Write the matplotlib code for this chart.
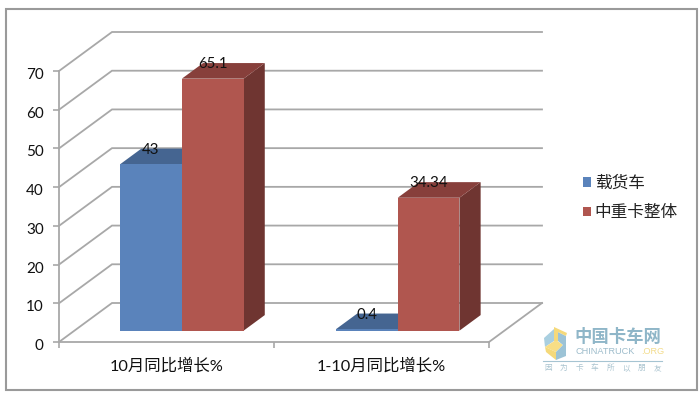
"""Two category 3D-look bar chart of truck sales growth."""

import matplotlib
matplotlib.use('Agg')
import matplotlib.pyplot as plt
from matplotlib.patches import Patch, Polygon, Rectangle
from matplotlib.transforms import ScaledTranslation

plt.rcParams['font.family'] = ['Lato', 'Noto Sans CJK SC', 'DejaVu Sans']

categories = ['10月同比增长%', '1-10月同比增长%']
series_names = ['载货车', '中重卡整体']
cargo_values = [43, 0.4]
heavy_values = [65.1, 34.34]
y_ticks = [0, 10, 20, 30, 40, 50, 60, 70]

W, H = 699, 396
GRID = '#a8a8a8'
TEXT = '#111111'
# front, top, side
BLUE = ('#5a83bb', '#456591', '#3a5578')
RED = ('#b0564f', '#873f3b', '#6f3531')

fig = plt.figure(figsize=(W / 100, H / 100), dpi=100)


def px(x, y):
    return x / W, 1 - y / H


def draw_px_poly(points, color, alpha=1.0, zorder=1):
    fig.add_artist(Polygon([px(x, y) for x, y in points], closed=True, facecolor=color,
                           edgecolor='none', alpha=alpha, transform=fig.transFigure, zorder=zorder))


# outer frame
fig.add_artist(Rectangle(px(6, 390), 691 / W, 381 / H, transform=fig.transFigure,
                         facecolor='white', edgecolor='#9a9a9a', linewidth=1.5, zorder=0))

left, bottom = px(59, 342)
ax = fig.add_axes([left, bottom, 430 / W, 271 / H])
ax.patch.set_visible(False)
ax.set_xlim(0, 2)
ax.set_ylim(0, 70)

# depth of the floor in data units, and of the bars
depth_x = 53 / 215
depth_y = 39 / (271 / 70)
bar_start = 0.29
bar_end = 0.69
bar_width = 0.287


def project(x, y, d):
    return x + d * depth_x, y + d * depth_y


# back wall and side wall gridlines
for val in y_ticks:
    xs, ys = zip(project(0, val, 0), project(0, val, 1), project(2, val, 1))
    ax.plot(xs, ys, color=GRID, lw=1.3, clip_on=False, zorder=1, solid_joinstyle='miter')
xs, ys = zip(project(2, 0, 0), project(2, 0, 1))
ax.plot(xs, ys, color=GRID, lw=1.3, clip_on=False, zorder=1)


def draw_bar(x0, value, colors, z):
    x1 = x0 + bar_width
    d0, d1 = bar_start, bar_end
    front = [project(x0, 0, d0), project(x1, 0, d0), project(x1, value, d0), project(x0, value, d0)]
    top = [project(x0, value, d0), project(x1, value, d0), project(x1, value, d1), project(x0, value, d1)]
    side = [project(x1, 0, d0), project(x1, 0, d1), project(x1, value, d1), project(x1, value, d0)]
    for pts, col in ((side, colors[2]), (top, colors[1]), (front, colors[0])):
        ax.add_patch(Polygon(pts, closed=True, facecolor=col, edgecolor='none', clip_on=False, zorder=z))


def draw_value(x_mid, value):
    # centred over the front face, level with the back edge of the top
    lx = project(x_mid, value, bar_start)[0]
    ly = project(x_mid, value, bar_end)[1] - 0.3
    ax.text(lx, ly, f'{value}', ha='center', va='center', fontsize=10.8, color=TEXT,
            clip_on=False, zorder=6)


for i in range(len(categories)):
    center = i + 0.5 + i * 0.004
    draw_bar(center - bar_width, cargo_values[i], BLUE, 3)
    draw_bar(center, heavy_values[i], RED, 4)
    draw_value(center - bar_width / 2, cargo_values[i])
    draw_value(center + bar_width / 2, heavy_values[i])

for name in ('top', 'right'):
    ax.spines[name].set_visible(False)
for name in ('left', 'bottom'):
    ax.spines[name].set_color(GRID)
    ax.spines[name].set_linewidth(1.3)
    ax.spines[name].set_zorder(2)

ax.set_yticks(y_ticks)
ax.set_xticks([0, 1, 2])
ax.set_xticklabels([])
ax.set_xticks([0.5, 1.5], minor=True)
ax.set_xticklabels(categories, minor=True)
ax.tick_params(axis='x', which='major', length=4, width=1.2, color=GRID)
ax.tick_params(axis='x', which='minor', length=0, pad=11.5, labelsize=11.8, labelcolor=TEXT)
ax.tick_params(axis='y', length=4, width=1.2, color=GRID, pad=7, labelsize=11, labelcolor=TEXT)

# Lato digits sit high, nudge them down onto the ticks
nudge = ScaledTranslation(0, -2.5 / 100, fig.dpi_scale_trans)
for label in ax.get_yticklabels():
    label.set_transform(label.get_transform() + nudge)

handles = [Patch(facecolor=BLUE[0], label=series_names[0]),
           Patch(facecolor=RED[0], label=series_names[1])]
fig.legend(handles=handles, loc='center left', bbox_to_anchor=(568 / W, 1 - 197.5 / H), frameon=False,
           fontsize=12, handlelength=0.5, handleheight=0.5, handletextpad=0.2, labelspacing=0.8,
           labelcolor='#222222')

# watermark logo
draw_px_poly([(554, 329), (554, 341), (545, 347), (544, 338)], '#a9cfe0', zorder=5)
draw_px_poly([(545, 347), (556, 340), (563, 345), (556, 352)], '#f7de86', zorder=5)
draw_px_poly([(558, 332), (566, 336), (566, 356), (556, 360), (556, 352), (563, 345), (558, 341)],
             '#9cc3d6', zorder=5)
draw_px_poly([(554, 327), (567, 333), (566, 336), (558, 332), (558, 341), (554, 341)], '#f5d97a', zorder=5)
draw_px_poly([(545, 347), (556, 352), (556, 360), (546, 352)], '#f5d97a', zorder=5)
fx, fy = px(618, 337)
fig.text(fx, fy, '中国卡车网', fontsize=12.5, color='#8fb6c8', ha='center', va='center',
         fontweight='bold', zorder=5)
fx, fy = px(576, 352)
fig.text(fx, fy, 'CHINATRUCK', fontsize=6.6, color='#9dbccb', ha='left', va='center',
         family='Liberation Sans', zorder=5)
fx, fy = px(641, 352)
fig.text(fx, fy, '.ORG', fontsize=6.6, color='#f3dc8c', ha='left', va='center',
         family='Liberation Sans', zorder=5)
fig.add_artist(plt.Line2D([543 / W, 662 / W], [1 - 361 / H, 1 - 361 / H], color='#a6c4d2', lw=0.8,
                          transform=fig.transFigure, zorder=5))
for idx, ch in enumerate('因为卡车所以朋友'):
    fx, fy = px(548 + idx * 15.6, 368)
    fig.text(fx, fy, ch, fontsize=5.5, color='#a9c3cf', ha='center', va='center', zorder=5,
             family='Noto Sans CJK SC')

fig.savefig('out.png', dpi=100, facecolor='white')
